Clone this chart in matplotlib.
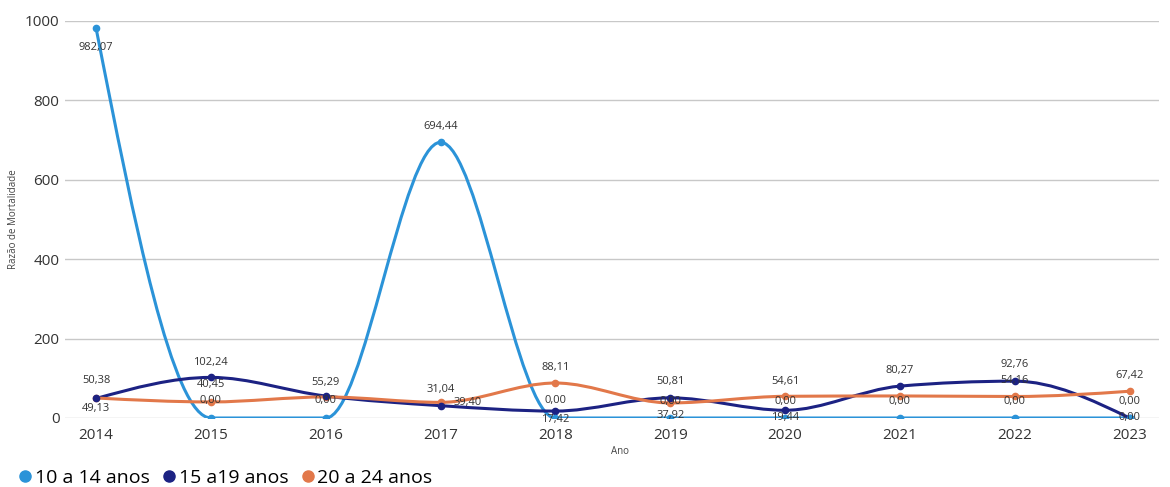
#!/usr/bin/env python

import numpy as np
import matplotlib
matplotlib.use('Agg')
import matplotlib.pyplot as plt
from matplotlib.path import Path
from matplotlib.patches import PathPatch
from matplotlib.lines import Line2D

# Data
anos = [2014, 2015, 2016, 2017, 2018, 2019, 2020, 2021, 2022, 2023]
serie_10_14 = [982.07, 0.00, 0.00, 694.44, 0.00, 0.00, 0.00, 0.00, 0.00, 0.00]
serie_15_19 = [49.13, 102.24, 55.29, 31.04, 17.42, 50.81, 19.44, 80.27, 92.76, 0.00]
serie_20_24 = [50.38, 40.45, 53.00, 39.40, 88.11, 37.92, 54.61, 55.50, 54.16, 67.42]
legendas = ['10 a 14 anos', '15 a19 anos', '20 a 24 anos']
cores = ['#2b93d8', '#1c2283', '#e2784a']

# label offsets in pixels (dx, dy); None -> label hidden (overlap in original)
rot_10_14 = [(0, -19), (0, 17), (0, 17), (0, 16), (0, 17), (0, 16), (0, 16), (0, 16), (0, 16), (0, 16)]
rot_15_19 = [(0, -10), (0, 15), (0, 14), (0, 16), (0, -8), (0, 16), (0, -7), (0, 16), (0, 17), (0, 0)]
rot_20_24 = [(0, 17), (0, 17), None, (27, 0), (0, 16), (0, -13), (0, 15), None, (0, 16), (0, 16)]

FONT = 'Open Sans'


def monotone_path(x, y):
    """Smooth monotone cubic curve (like the 'smooth' line option)."""
    x = np.asarray(x, float)
    y = np.asarray(y, float)
    n = len(x)
    h = np.diff(x)
    s = np.diff(y) / h
    t = np.zeros(n)
    for i in range(1, n - 1):
        p = (s[i - 1] * h[i] + s[i] * h[i - 1]) / (h[i - 1] + h[i])
        t[i] = (np.sign(s[i - 1]) + np.sign(s[i])) * min(abs(s[i - 1]), abs(s[i]), 0.5 * abs(p))
    t[0] = (3 * s[0] - t[1]) / 2
    t[-1] = (3 * s[-1] - t[-2]) / 2
    verts = [(x[0], y[0])]
    codes = [Path.MOVETO]
    for i in range(n - 1):
        dx = h[i] / 3
        verts += [(x[i] + dx, y[i] + dx * t[i]), (x[i + 1] - dx, y[i + 1] - dx * t[i + 1]), (x[i + 1], y[i + 1])]
        codes += [Path.CURVE4] * 3
    return Path(verts, codes)


def fmt(v):
    return ('%.2f' % v).replace('.', ',')


fig = plt.figure(figsize=(11.7, 4.87), dpi=100)
ax = fig.add_axes([0.0556, 0.1417, 0.9354, 0.8152])

series = [serie_10_14, serie_15_19, serie_20_24]
rotulos = [rot_10_14, rot_15_19, rot_20_24]

# draw order: orange, navy, blue on top
for idx in [2, 1, 0]:
    vals = series[idx]
    ax.add_patch(PathPatch(monotone_path(anos, vals), fill=False, edgecolor=cores[idx],
                           lw=2.2, zorder=3 + idx * 0.1, capstyle='round'))
    ax.plot(anos, vals, 'o', color=cores[idx], ms=4.5, zorder=4)

for idx in range(3):
    for ano, v, off in zip(anos, series[idx], rotulos[idx]):
        if off is None:
            continue
        ax.annotate(fmt(v), (ano, v), xytext=off, textcoords='offset pixels',
                    ha='center', va='center', fontsize=8, color='#333333',
                    family=FONT, zorder=6)

ax.set_xlim(2013.73, 2023.26)
ax.set_ylim(0, 1000)
ax.set_yticks([0, 200, 400, 600, 800, 1000])
ax.set_xticks(anos)
ax.grid(axis='y', color='#c8c8c8', lw=1)
ax.set_axisbelow(True)
for sp in ax.spines.values():
    sp.set_visible(False)
ax.tick_params(length=0, labelsize=11, colors='#333333', pad=4)
ax.tick_params(axis='x', pad=7)
for lab in ax.get_xticklabels() + ax.get_yticklabels():
    lab.set_family(FONT)

ax.set_ylabel('Razão de Mortalidade', fontsize=7, family=FONT, color='#444444', labelpad=4)
fig.text(0.530, 0.072, 'Ano', fontsize=7, family=FONT, color='#444444', ha='center', va='center')

handles = [Line2D([], [], ls='none', marker='o', ms=8, color=c) for c in cores]
fig.legend(handles, legendas, loc='lower left', bbox_to_anchor=(-0.002, -0.035), ncol=3,
           frameon=False, handletextpad=0.0, columnspacing=0.5, handlelength=1.0,
           prop={'family': FONT, 'size': 14})

fig.savefig('out.png', dpi=100)
